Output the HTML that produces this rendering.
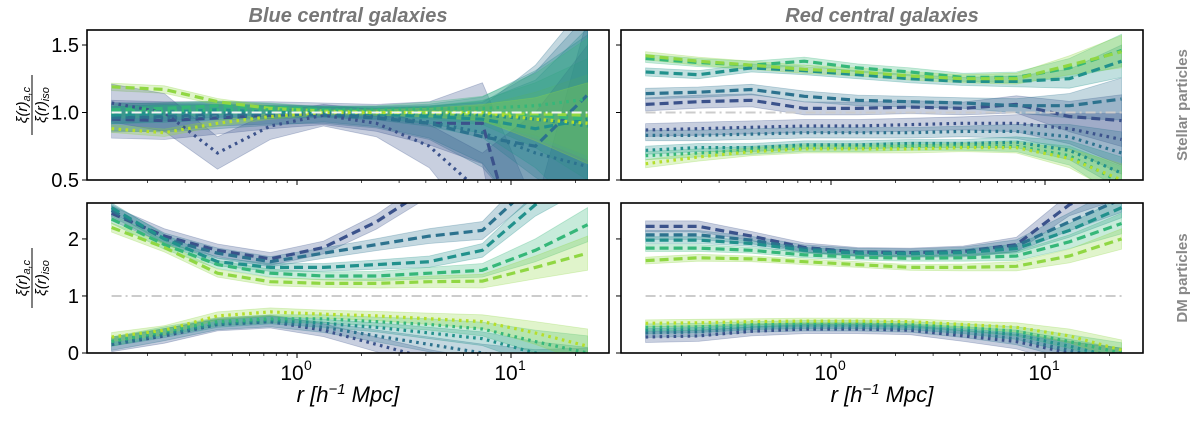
<!DOCTYPE html>
<html><head><meta charset="utf-8"><style>
html,body{margin:0;padding:0;background:#fff;width:1200px;height:421px;overflow:hidden;position:relative;}
svg{display:block;font-family:"Liberation Sans","DejaVu Sans",sans-serif;}
</style></head><body>
<svg id="chart" width="1200" height="421" viewBox="0 0 1200 421" xmlns="http://www.w3.org/2000/svg" style="position:absolute;left:0;top:0">
<defs id="defs"></defs>
<g id="root"></g>
</svg>
<script>
const rValues = [0.136, 0.24, 0.425, 0.75, 1.33, 2.35, 4.15, 7.35, 13.0, 22.8];
const xTickLabels = ["10", "10"];
const xTickExp = ["0", "1"];
const topYTicks = [0.5, 1.0, 1.5];
const topYTickLabels = ["0.5", "1.0", "1.5"];
const botYTicks = [0, 1, 2];
const botYTickLabels = ["0", "1", "2"];
const palette = ["#3b528b", "#2c728e", "#21918c", "#35b779", "#90d743"];

// Top-left: blue centrals, stellar
const tlDashed = [
 [0.95,0.94,0.96,0.98,0.99,0.96,0.92,0.92,-0.5,0.2],
 [0.96,0.97,0.99,0.99,0.98,0.96,0.92,0.82,0.75,1.13],
 [0.98,1.00,1.02,1.00,1.00,0.99,0.97,0.95,0.88,0.95],
 [1.02,1.03,1.05,1.04,1.02,1.00,1.00,1.00,0.98,0.95],
 [1.19,1.17,1.08,1.03,1.01,1.00,1.00,0.99,0.99,0.98]];
const tlDotted = [
 [1.07,1.00,0.70,0.90,0.98,0.92,0.75,0.40,0.20,0.00],
 [0.97,0.96,0.97,0.98,0.99,0.97,0.93,0.85,0.70,0.60],
 [0.98,0.99,1.00,1.00,1.01,1.00,0.99,0.98,0.95,0.90],
 [1.00,1.01,1.02,1.02,1.02,1.02,1.03,1.03,1.05,1.10],
 [0.88,0.85,0.92,0.97,1.00,1.00,1.00,1.00,0.95,0.92]];
const tlErr = [0.07,0.07,0.06,0.05,0.04,0.05,0.08,0.15,0.4,0.75];

// Top-right: red centrals, stellar
const trDashed = [
 [1.06,1.08,1.09,1.03,1.03,1.04,1.03,1.06,0.97,0.94],
 [1.14,1.15,1.17,1.12,1.09,1.08,1.07,1.05,1.05,1.10],
 [1.30,1.28,1.33,1.31,1.28,1.25,1.23,1.23,1.25,1.38],
 [1.40,1.37,1.35,1.38,1.33,1.30,1.26,1.26,1.33,1.46],
 [1.42,1.38,1.35,1.32,1.30,1.27,1.25,1.25,1.35,1.45]];
const trDotted = [
 [0.87,0.88,0.89,0.90,0.90,0.91,0.92,0.92,0.88,0.80],
 [0.83,0.83,0.84,0.85,0.85,0.85,0.86,0.86,0.82,0.70],
 [0.72,0.74,0.74,0.76,0.76,0.77,0.77,0.78,0.72,0.55],
 [0.68,0.70,0.72,0.74,0.74,0.75,0.75,0.75,0.68,0.48],
 [0.62,0.67,0.71,0.73,0.73,0.73,0.74,0.74,0.66,0.50]];
const trErr = [0.03,0.03,0.03,0.03,0.03,0.03,0.03,0.04,0.07,0.12];

// Bottom-left: blue centrals, DM
const blDashed = [
 [2.45,2.05,1.80,1.65,1.85,2.30,2.90,3.30,3.60,3.90],
 [2.50,2.00,1.75,1.60,1.75,1.90,2.05,2.15,3.00,3.50],
 [2.55,2.00,1.60,1.50,1.50,1.55,1.60,1.80,2.60,3.20],
 [2.35,1.90,1.55,1.40,1.35,1.35,1.40,1.45,1.80,2.25],
 [2.20,1.85,1.40,1.25,1.22,1.22,1.25,1.26,1.50,1.75]];
const blDotted = [
 [0.15,0.30,0.50,0.55,0.40,0.15,-0.10,-0.30,-0.50,-0.60],
 [0.15,0.32,0.50,0.55,0.45,0.30,0.15,0.00,-0.20,-0.30],
 [0.20,0.35,0.52,0.58,0.52,0.45,0.35,0.25,0.00,-0.20],
 [0.20,0.38,0.55,0.60,0.60,0.55,0.50,0.42,0.20,0.00],
 [0.28,0.40,0.65,0.72,0.68,0.65,0.60,0.55,0.35,0.12]];
const blErr = [0.08,0.08,0.07,0.07,0.07,0.08,0.1,0.12,0.2,0.3];

// Bottom-right: red centrals, DM
const brDashed = [
 [2.22,2.22,2.05,1.85,1.77,1.76,1.78,1.90,2.60,3.00],
 [2.07,2.07,1.98,1.83,1.77,1.76,1.78,1.88,2.30,2.70],
 [1.98,1.98,1.92,1.80,1.75,1.74,1.76,1.83,2.15,2.55],
 [1.84,1.84,1.80,1.72,1.68,1.66,1.67,1.70,1.95,2.27],
 [1.62,1.67,1.65,1.60,1.55,1.50,1.50,1.52,1.70,2.00]];
const brDotted = [
 [0.28,0.30,0.38,0.42,0.42,0.40,0.30,0.20,0.00,-0.20],
 [0.35,0.37,0.43,0.45,0.45,0.43,0.35,0.25,0.05,-0.15],
 [0.40,0.42,0.46,0.48,0.48,0.46,0.40,0.32,0.12,-0.10],
 [0.45,0.46,0.50,0.52,0.52,0.50,0.45,0.38,0.20,0.00],
 [0.52,0.53,0.55,0.56,0.56,0.55,0.50,0.45,0.30,0.05]];
const brErr = [0.06,0.06,0.05,0.05,0.05,0.05,0.06,0.08,0.12,0.18];

const NS = "http://www.w3.org/2000/svg";
const root = document.getElementById("root");
const defs = document.getElementById("defs");
function mk(tag, attrs, parent){const e=document.createElementNS(NS,tag);for(const k in attrs)e.setAttribute(k,attrs[k]);(parent||root).appendChild(e);return e;}

const panels = [
 {id:"tl", x0:87, x1:609, y0:30, y1:180, ymin:0.5, ymax:1.611, d:tlDashed, c:tlDotted, err:tlErr, yt:topYTicks, ytl:topYTickLabels, showY:true, showX:false, ref:"#f4f4f4", mult:[2.0,1.5,0.9,0.6,0.4]},
 {id:"tr", x0:621, x1:1143, y0:30, y1:180, ymin:0.5, ymax:1.611, d:trDashed, c:trDotted, err:trErr, yt:topYTicks, ytl:topYTickLabels, showY:false, showX:false, ref:"#cccccc", mult:[1.6,1.3,1,1,1]},
 {id:"bl", x0:87, x1:609, y0:203, y1:353, ymin:0, ymax:2.63, d:blDashed, c:blDotted, err:blErr, yt:botYTicks, ytl:botYTickLabels, showY:true, showX:true, ref:"#cccccc", mult:[1.6,1.3,1,1,1]},
 {id:"br", x0:621, x1:1143, y0:203, y1:353, ymin:0, ymax:2.63, d:brDashed, c:brDotted, err:brErr, yt:botYTicks, ytl:botYTickLabels, showY:false, showX:true, ref:"#cccccc", mult:[1.6,1.3,1,1,1]}];

panels.forEach(p=>{
  const decade=214;
  const xs = v => p.x0 + 210 + Math.log10(v)*decade;
  const ysRaw = v => p.y1 - (v-p.ymin)/(p.ymax-p.ymin)*(p.y1-p.y0);
  const ys = v => Math.max(2, Math.min(419, ysRaw(v)));
  const cp = mk("clipPath",{id:"clip-"+p.id},defs);
  mk("rect",{x:p.x0,y:p.y0,width:p.x1-p.x0,height:p.y1-p.y0},cp);
  const g = mk("g",{"clip-path":"url(#clip-"+p.id+")"});
  
  
  const drawSeries = (arr, kind) => {
    arr.forEach((vals,i)=>{
      const mult = p.mult[i];
      let up = vals.map((v,k)=>xs(rValues[k]).toFixed(1)+","+ys(v+p.err[k]*mult).toFixed(1));
      let dn = vals.map((v,k)=>xs(rValues[k]).toFixed(1)+","+ys(v-p.err[k]*mult).toFixed(1)).reverse();
      const band = mk("polygon",{points:up.concat(dn).join(" "),fill:palette[i],"fill-opacity":0.28,stroke:palette[i],"stroke-opacity":0.3,"stroke-width":0.8},g);
      
      
    });
  };
  drawSeries(p.d,"a"); drawSeries(p.c,"c");
  const drawLines = (arr, kind) => {
    arr.forEach((vals,i)=>{
      const pts = vals.map((v,k)=>xs(rValues[k]).toFixed(1)+","+ys(v).toFixed(1)).join(" ");
      const col = (kind==="c" && i===4) ? "#b5de2b" : palette[i];
      const ln = mk("polyline",{points:pts,fill:"none",stroke:col,"stroke-width":3.2,"stroke-dasharray":kind==="a"?"9,5":"2.6,4.4"},g);
      
      
    });
  };
  drawLines(p.d,"a"); drawLines(p.c,"c");
  const ref = mk("line",{x1:xs(rValues[0]),x2:xs(rValues[9]),y1:ys(1),y2:ys(1),stroke:p.ref,"stroke-width":2,"stroke-dasharray":"10,4,2,4"},g);
  
  
  const frame = mk("rect",{x:p.x0,y:p.y0,width:p.x1-p.x0,height:p.y1-p.y0,fill:"none",stroke:"#000","stroke-width":1.6});
  
  
  p.yt.forEach((t,i)=>{
    const y=ys(t);
    mk("line",{x1:p.x0-5,x2:p.x0,y1:y,y2:y,stroke:"#000","stroke-width":1});
    if(p.showY){
      const tx=mk("text",{x:p.x0-8,y:y+7,"text-anchor":"end","font-size":20,fill:"#000"});
      tx.textContent=p.ytl[i];
      
      
    }
  });
  for(let dec=-1;dec<=1;dec++){
    for(let m=1;m<10;m++){
      const v=m*Math.pow(10,dec);
      const x=xs(v);
      if(x<p.x0||x>p.x1) continue;
      mk("line",{x1:x,x2:x,y1:p.y1,y2:p.y1+(m===1?5:3),stroke:"#000","stroke-width":m===1?1:0.7});
    }
  }
  if(p.showX){
    [0,1].forEach(i=>{
      const x=xs(Math.pow(10,i));
      const tx=mk("text",{x:x-5,y:p.y1+27,"text-anchor":"middle","font-size":21,fill:"#000"});
      tx.textContent=xTickLabels[i];
      
      
      const ex=mk("text",{x:x+7,y:p.y1+17,"font-size":14,fill:"#000"});
      ex.textContent=xTickExp[i];
    });
  }
});
</script>
<svg width="1200" height="421" style="position:absolute;left:0;top:0" xmlns="http://www.w3.org/2000/svg">
<text x="348" y="22" text-anchor="middle" font-size="20" font-weight="bold" font-style="italic" fill="#777">Blue central galaxies</text>
<text x="882" y="22" text-anchor="middle" font-size="20" font-weight="bold" font-style="italic" fill="#777">Red central galaxies</text>
<text transform="translate(1187,105) rotate(-90)" text-anchor="middle" font-size="15" font-weight="bold" fill="#888">Stellar particles</text>
<text transform="translate(1187,278) rotate(-90)" text-anchor="middle" font-size="15" font-weight="bold" fill="#888">DM particles</text>
<g transform="translate(32,105) rotate(-90)" font-size="15" font-style="italic" text-anchor="middle">
<text x="0" y="-5">ξ(r)<tspan font-size="11" dy="3">a,c</tspan></text>
<line x1="-30" x2="30" y1="0" y2="0" stroke="#000" stroke-width="1"/>
<text x="0" y="14">ξ(r)<tspan font-size="11" dy="3">iso</tspan></text>
</g>
<g transform="translate(32,278) rotate(-90)" font-size="15" font-style="italic" text-anchor="middle">
<text x="0" y="-5">ξ(r)<tspan font-size="11" dy="3">a,c</tspan></text>
<line x1="-30" x2="30" y1="0" y2="0" stroke="#000" stroke-width="1"/>
<text x="0" y="14">ξ(r)<tspan font-size="11" dy="3">iso</tspan></text>
</g>
<text x="348" y="402" text-anchor="middle" font-size="22" font-style="italic">r [h<tspan font-size="15" dy="-8">−1</tspan><tspan dy="8"> Mpc]</tspan></text>
<text x="882" y="402" text-anchor="middle" font-size="22" font-style="italic">r [h<tspan font-size="15" dy="-8">−1</tspan><tspan dy="8"> Mpc]</tspan></text>
</svg>
</body></html>
